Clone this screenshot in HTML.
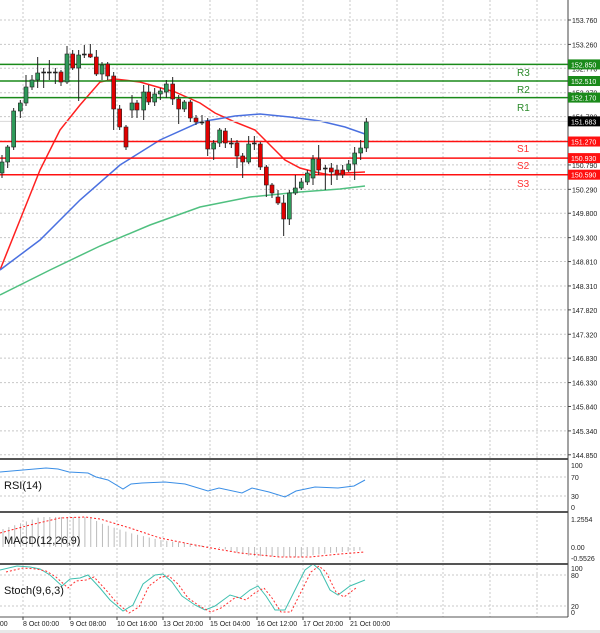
<!DOCTYPE html><html><head><meta charset="utf-8"><style>
body{margin:0;background:#fff;width:600px;height:633px;overflow:hidden;font-family:"Liberation Sans",sans-serif}
svg{display:block}
</style></head><body>
<svg id="s" width="600" height="633" xmlns="http://www.w3.org/2000/svg" font-family="Liberation Sans, sans-serif"></svg>
<script>
var s=document.getElementById('s'),h='';
function L(x1,y1,x2,y2,c,w,d){h+='<line x1="'+x1+'" y1="'+y1+'" x2="'+x2+'" y2="'+y2+'" stroke="'+c+'" stroke-width="'+(w||1)+'"'+(d?' stroke-dasharray="'+d+'"':'')+'/>';}
function T(x,y,t,c,fs,a){h+='<text x="'+x+'" y="'+y+'" fill="'+c+'" font-size="'+fs+'"'+(a?' text-anchor="'+a+'"':'')+'>'+t+'</text>';}
function P(pts,c,w,d){h+='<polyline fill="none" points="'+pts.map(p=>p.join(',')).join(' ')+'" stroke="'+c+'" stroke-width="'+(w||1)+'"'+(d?' stroke-dasharray="'+d+'"':'')+'/>';}
var G='#c8c8c8';
// main grid
function py(p){return 20+(153.76-p)*48.8;}
var labs=["153.760","153.260","152.770","152.270","151.780","151.280","150.790","150.290","149.800","149.300","148.810","148.310","147.820","147.320","146.830","146.330","145.840","145.340","144.850"];
labs.forEach(function(l){var y=py(+l);if(y<455)L(0,y,568,y,G,1,'2,2');});
var tx=[23,70,117,163,210,257,303,350,397,443,490,537];
tx.forEach(function(x){L(x,0,x,617,G,1,'2,2');});
// subpanel grids
[477,496,575,606].forEach(function(y){L(0,y,568,y,G,1,'2,2');});
// MACD histogram
var hb=[[0,530],[40,517],[90,517],[100,523],[130,533],[160,540],[200,545],[220,548],[250,556],[300,557],[330,553],[365,550]];
function interp(a,x){for(var i=0;i<a.length-1;i++){if(x>=a[i][0]&&x<=a[i+1][0]){var t=(x-a[i][0])/(a[i+1][0]-a[i][0]);return a[i][1]+t*(a[i+1][1]-a[i][1]);}}return a[a.length-1][1];}
for(var x=3;x<=365;x+=5.85){L(x,547,x,interp(hb,x),'#bbbbbb',1);}
P([[0,533],[30,525],[60,518],[85,517],[100,519],[130,528],[160,538],[200,546],[240,553],[280,557],[310,557],[340,554],[365,552]],'#ff2020',1,'2,2');
// RSI
P([[0,472],[46,468],[58,469],[69,472],[88,473],[96,477],[108,480],[123,489],[131,484],[142,483],[165,482],[185,484],[208,491],[219,488],[242,493],[252,488],[269,492],[285,497],[296,491],[315,487],[338,488],[354,486],[365,480]],'#3a8ee6',1);
// Stoch
var st=[[0,570],[17,566],[30,567],[40,569],[50,575],[62,586],[70,579],[80,578],[88,575],[100,588],[110,600],[123,611],[133,605],[143,584],[155,575],[163,574],[172,582],[182,596],[195,605],[205,610],[215,606],[230,595],[240,598],[250,590],[258,586],[266,596],[275,610],[285,610],[295,590],[305,570],[313,564],[320,570],[330,590],[338,595],[350,586],[365,580]];
P(st,'#40c0b0',1);
P(st.map(p=>[p[0]+6,p[1]+2]).filter(p=>p[0]<=366),'#ff3030',1,'2,2');
// MAs
P([[0,270],[20,220],[40,170],[60,130],[80,105],[100,82],[115,79],[140,82],[175,92],[200,103],[215,113],[235,122],[255,130],[270,145],[285,160],[300,168],[315,172],[330,175],[345,173],[365,172]],'#ff2020',1.5);
P([[0,270],[40,240],[80,200],[120,165],[160,140],[200,122],[235,116],[260,114],[290,117],[320,121],[345,127],[365,134]],'#4a70e0',1.5);
P([[0,295],[50,270],[100,246],[150,225],[200,207],[250,197],[300,192],[340,189],[365,186]],'#50c080',1.5);
// S/R lines
[[152.85,'#1a8a1a'],[152.51,'#1a8a1a'],[152.17,'#1a8a1a'],[151.27,'#ff1010'],[150.93,'#ff1010'],[150.59,'#ff1010']].forEach(function(a){L(0,py(a[0]),568,py(a[0]),a[1],1.5);});
L(0,py(151.683),568,py(151.683),'#d8d8d8',1);
// candles: [x3, top, bottom, color, wickTop, wickBot]
var cd=[[0,162,173,'g',155,178],[17,147,162,'g',145,168],[35,111,147,'g',108,150],[55,103,111,'g',100,118],[72,87,103,'g',75,106],[90,80,87,'g',75,90],[107,73,80,'g',57,88],[125,72,73,'d',68,88],[142,72,73,'d',60,80],[160,72,73,'d',68,84],[177,72,82,'r',70,86],[195,54,82,'g',46,84],[212,54,68,'r',50,70],[230,55,68,'g',50,101],[247,54,55,'d',45,58],[265,54,57,'r',44,58],[283,57,74,'r',50,76],[300,65,74,'g',62,80],[317,64,76,'r',62,80],[335,76,109,'r',72,130],[353,109,127,'r',105,130],[372,127,147,'r',125,150],[390,103,110,'g',95,118],[405,103,110,'r',100,118],[425,92,110,'g',85,120],[440,92,102,'r',85,105],[458,94,102,'g',88,106],[475,91,94,'g',88,100],[493,84,92,'g',80,98],[512,84,99,'r',77,105],[530,99,109,'r',95,124],[547,102,109,'g',100,112],[565,102,118,'r',100,122],[582,118,122,'r',115,125],[600,122,123,'d',115,125],[617,121,149,'r',118,156],[635,143,149,'g',140,160],[653,130,143,'g',128,147],[670,131,143,'r',128,148],[688,143,144,'d',138,148],[705,143,156,'r',140,168],[722,156,162,'r',153,178],[740,144,162,'g',136,164],[757,143,144,'d',136,150],[775,144,167,'r',142,170],[793,167,185,'r',165,197],[810,185,193,'r',183,198],[828,197,203,'r',190,205],[845,203,219,'r',195,236],[862,193,219,'g',190,225],[880,188,193,'g',175,195],[898,182,188,'g',178,190],[916,173,182,'g',170,185],[933,159,178,'g',155,185],[950,159,170,'r',145,175],[970,168,169,'d',165,190],[988,168,172,'r',163,185],[1005,170,175,'r',165,180],[1022,170,175,'r',165,178],[1040,164,170,'g',160,172],[1058,153,164,'g',147,180],[1076,148,153,'g',140,160],[1093,122,148,'g',118,152]];
cd.forEach(function(c){var x=c[0]/3+2;L(x,c[4],x,c[5],'#222',1);var bh=Math.max(1,c[2]-c[1]);var f=c[3]=='g'?'#2e9a5a':(c[3]=='r'?'#e00000':'#222');h+='<rect x="'+(x-2)+'" y="'+c[1]+'" width="4" height="'+bh+'" fill="'+f+'" stroke="#222" stroke-width="0.6"/>';});
// R/S labels
T(517,76,'R3','#2a8a2a',10);T(517,93,'R2','#2a8a2a',10);T(517,111,'R1','#2a8a2a',10);
T(517,152,'S1','#ff3030',10);T(517,169,'S2','#ff3030',10);T(517,187,'S3','#ff3030',10);
// panel borders
L(0,459,568,459,'#555',2);L(0,512,568,512,'#555',2);L(0,564,568,564,'#555',2);L(0,617,568,617,'#555',1);
L(568,0,568,617,'#444',1);
// axis labels
labs.forEach(function(l){var y=py(+l);L(568,y,571,y,'#444');T(572,y+3,l,'#222',7);});
[['152.850','#1a8a1a'],['152.510','#1a8a1a'],['152.170','#1a8a1a'],['151.683','#000'],['151.270','#ff1010'],['150.930','#ff1010'],['150.590','#ff1010']].forEach(function(a){var y=py(+a[0]);h+='<rect x="568" y="'+(y-5)+'" width="32" height="10" fill="'+a[1]+'"/>';T(571,y+3,a[0],'#fff',7);});
[[465,'100'],[477,'70'],[496,'30'],[507,'0'],[519,'1.2554'],[547,'0.00'],[558,'-0.5526'],[568,'100'],[575,'80'],[606,'20'],[612,'0']].forEach(function(a){T(571,a[0]+3,a[1],'#222',7);});
T(4,489,'RSI(14)','#111',11);T(4,544,'MACD(12,26,9)','#111',11);T(4,594,'Stoch(9,6,3)','#111',11);
// x labels
var xl=['8 Oct 00:00','9 Oct 08:00','10 Oct 16:00','13 Oct 20:00','15 Oct 04:00','16 Oct 12:00','17 Oct 20:00','21 Oct 00:00'];
T(-6,626,'6:00','#222',7);
xl.forEach(function(t,i){L(tx[i],617,tx[i],620,'#444');T(tx[i],626,t,'#222',7);});
h+='<rect x="0" y="630" width="600" height="3" fill="#e8e8e8"/>';
s.innerHTML=h;
</script></body></html>
